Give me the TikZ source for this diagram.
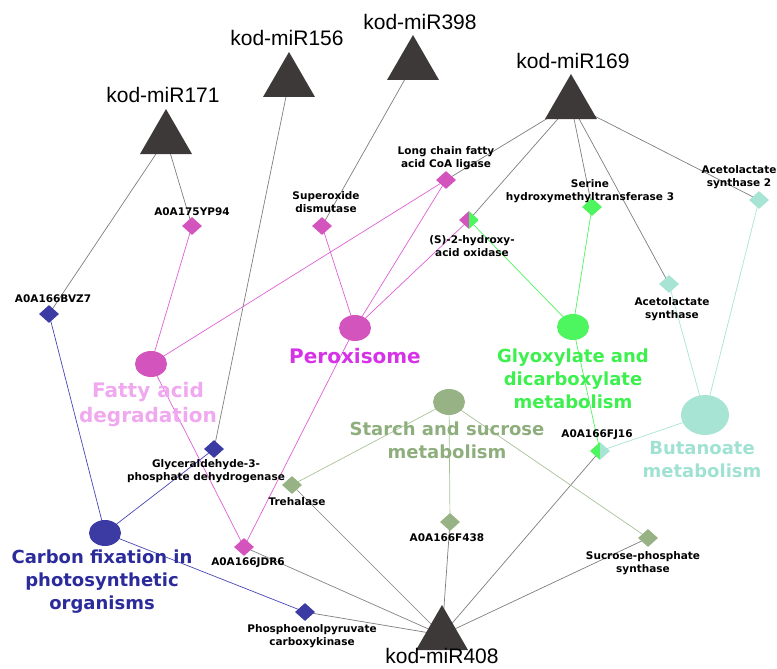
\documentclass[tikz,border=0pt]{standalone}
\usepackage{xcolor}
\usepackage{fontspec}
\setmainfont{Liberation Sans}
\newfontfamily\protfont{DejaVu Sans}
\usepackage{tikz}
\usetikzlibrary{shapes,backgrounds,calc}

\definecolor{mirdark}{HTML}{3D3938}
\definecolor{edgegray}{HTML}{7E7E7E}
\definecolor{pinkN}{HTML}{D454BE}
\definecolor{pinkE}{HTML}{DE5FD6}
\definecolor{peroxT}{HTML}{D633E8}
\definecolor{fadT}{HTML}{F0A8EE}
\definecolor{greenN}{HTML}{4DF55E}
\definecolor{greenT}{HTML}{3CF04E}
\definecolor{tealN}{HTML}{A8E4D4}
\definecolor{tealT}{HTML}{A0E2D2}
\definecolor{oliveN}{HTML}{97B285}
\definecolor{oliveT}{HTML}{8EAE7D}
\definecolor{oliveE}{HTML}{A8C298}
\definecolor{blueN}{HTML}{3B3BA3}
\definecolor{blueT}{HTML}{2B2B9B}
\definecolor{blueE}{HTML}{4545B5}

\begin{document}
\begin{tikzpicture}[x=1pt,y=-1pt]
        % Styles for the miRNAs, proteins and pathways
        \tikzstyle{mirna}=[regular polygon, regular polygon sides=3, fill=mirdark, inner sep=0pt, outer sep=0pt, minimum size=60pt];
        \tikzstyle{mirlbl}=[font=\fontsize{21}{23}\selectfont, inner sep=0pt];
        \tikzstyle{prot}=[diamond, inner sep=0pt, minimum width=20pt, minimum height=18pt];
        \tikzstyle{protlbl}=[font=\protfont\bfseries\fontsize{10.5}{13}\selectfont, align=center, inner sep=0pt];
        \tikzstyle{path}=[ellipse, inner sep=0pt, minimum width=32pt, minimum height=26pt];
        \tikzstyle{pathlbl}=[font=\protfont\bfseries\fontsize{18}{23}\selectfont, align=center, inner sep=0pt];
        \tikzstyle{gline}=[edgegray, line width=0.7pt];
        \tikzstyle{pline}=[pinkE, line width=0.7pt];
        \tikzstyle{grline}=[greenN, line width=0.7pt];
        \tikzstyle{tline}=[tealN, line width=0.7pt];
        \tikzstyle{oline}=[oliveE, line width=0.7pt];
        \tikzstyle{bline}=[blueE, line width=0.7pt];
        \tikzset{halfprot/.style 2 args={prot, path picture={
            \fill[#1] (path picture bounding box.south west) rectangle (path picture bounding box.north);
            \fill[#2] (path picture bounding box.south) rectangle (path picture bounding box.north east);}}}

        \useasboundingbox (0,0) rectangle (777,669);

        % miRNAs
        \node[mirna] (m171) at (166,139) {};
        \node[mirna] (m156) at (289,82) {};
        \node[mirna] (m398) at (413,65) {};
        \node[mirna] (m169) at (571,104) {};
        \node[mirna] (m408) at (442,635) {};
        \node[mirlbl] (m171-l) at (163,95) {kod-miR171};
        \node[mirlbl] (m156-l) at (287,38) {kod-miR156};
        \node[mirlbl] (m398-l) at (420,22) {kod-miR398};
        \node[mirlbl] (m169-l) at (573,61) {kod-miR169};
        \node[mirlbl] (m408-l) at (442,656) {kod-miR408};

        % Target proteins
        \node[prot, fill=pinkN] (yp94) at (192,226) {};
        \node[prot, fill=pinkN] (sod) at (322,226) {};
        \node[prot, fill=pinkN] (lcf) at (446,180) {};
        \node[halfprot={pinkN}{greenN}] (hao) at (469,220) {};
        \node[prot, fill=greenN] (shmt) at (592,207) {};
        \node[prot, fill=tealN] (als2) at (759,200) {};
        \node[prot, fill=tealN] (als) at (669,284) {};
        \node[prot, fill=blueN] (bvz7) at (49,314) {};
        \node[prot, fill=blueN] (gapdh) at (214,449) {};
        \node[prot, fill=oliveN] (treh) at (292,485) {};
        \node[prot, fill=pinkN] (jdr6) at (244,547) {};
        \node[prot, fill=blueN] (pepck) at (305,612) {};
        \node[prot, fill=oliveN] (f438) at (450,522) {};
        \node[halfprot={greenN}{tealN}] (fj16) at (600,451) {};
        \node[prot, fill=oliveN] (sps) at (648,538) {};

        % Protein labels
        \node[protlbl] (yp94-l) at (192,212) {A0A175YP94};
        \node[protlbl] (sod-l) at (326,202) {Superoxide\\dismutase};
        \node[protlbl] (lcf-l) at (446,158) {Long chain fatty\\acid CoA ligase};
        \node[protlbl] (hao-l) at (472,246) {(S)-2-hydroxy-\\acid oxidase};
        \node[protlbl] (shmt-l) at (590,191) {Serine\\hydroxymethyltransferase 3};
        \node[protlbl] (als2-l) at (739,177) {Acetolactate\\synthase 2};
        \node[protlbl] (als-l) at (672,309) {Acetolactate\\synthase};
        \node[protlbl] (bvz7-l) at (53,299) {A0A166BVZ7};
        \node[protlbl] (gapdh-l) at (206,471) {Glyceraldehyde-3-\\phosphate dehydrogenase};
        \node[protlbl] (treh-l) at (297,502) {Trehalase};
        \node[protlbl] (jdr6-l) at (248,563) {A0A166JDR6};
        \node[protlbl] (pepck-l) at (312,636) {Phosphoenolpyruvate\\carboxykinase};
        \node[protlbl] (f438-l) at (447,538) {A0A166F438};
        \node[protlbl] (fj16-l) at (597,435) {A0A166FJ16};
        \node[protlbl] (sps-l) at (643,563) {Sucrose-phosphate\\synthase};

        % Pathways
        \node[path, fill=pinkN] (fad) at (151,364) {};
        \node[path, fill=pinkN] (perox) at (355,328) {};
        \node[path, fill=greenN] (glyox) at (573,327) {};
        \node[path, fill=oliveN] (starch) at (449,402) {};
        \node[path, fill=blueN] (carbon) at (105,533) {};
        \node[path, fill=tealN, minimum width=48pt, minimum height=40pt] (butan) at (705,415) {};
        \node[pathlbl, text=fadT, font=\protfont\bfseries\fontsize{20}{25}\selectfont] (fad-l) at (148,405) {Fatty acid\\degradation};
        \node[pathlbl, text=peroxT, font=\protfont\bfseries\fontsize{20}{25}\selectfont] (perox-l) at (355,356) {Peroxisome};
        \node[pathlbl, text=greenT] (glyox-l) at (573,379) {Glyoxylate and\\dicarboxylate\\metabolism};
        \node[pathlbl, text=oliveT] (starch-l) at (447,440) {Starch and sucrose\\metabolism};
        \node[pathlbl, text=blueT] (carbon-l) at (102,582) {Carbon fixation in\\photosynthetic\\organisms};
        \node[pathlbl, text=tealT] (butan-l) at (702,460) {Butanoate\\metabolism};

        % Connectors, drawn under the nodes
        \begin{scope}[on background layer]
            \foreach \a/\b in {m171/bvz7, m171/yp94, m156/gapdh, m398/sod, m169/lcf, m169/hao,
                m169/shmt, m169/als, m169/als2, m408/treh, m408/jdr6, m408/pepck, m408/f438,
                m408/fj16, m408/sps}
                \draw[gline] (\a.center) -- (\b.center);
            \foreach \a/\b in {yp94/fad, lcf/fad, lcf/perox, sod/perox, hao/perox, fad/jdr6, perox/jdr6}
                \draw[pline] (\a.center) -- (\b.center);
            \foreach \a/\b in {hao/glyox, shmt/glyox, glyox/fj16}
                \draw[grline] (\a.center) -- (\b.center);
            \foreach \a/\b in {als2/butan, als/butan, butan/fj16}
                \draw[tline] (\a.center) -- (\b.center);
            \foreach \a/\b in {starch/treh, starch/f438, starch/sps}
                \draw[oline] (\a.center) -- (\b.center);
            \foreach \a/\b in {bvz7/carbon, gapdh/carbon, carbon/pepck}
                \draw[bline] (\a.center) -- (\b.center);
        \end{scope}

    \end{tikzpicture}
\end{document}
